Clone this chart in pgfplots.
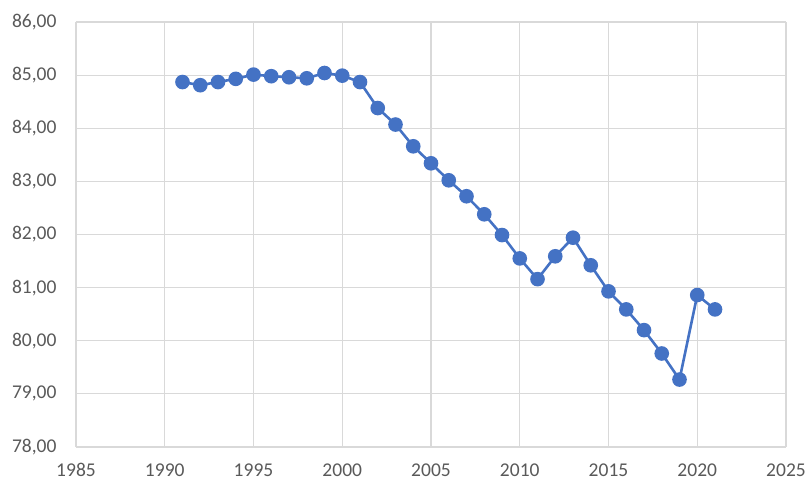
\documentclass[border=0pt]{standalone}
\usepackage{pgfplots}
\pgfplotsset{compat=1.18}
\usepackage{fontspec}
\setmainfont{Carlito}
\definecolor{serieC}{HTML}{4472C4}
\definecolor{gridC}{HTML}{D9D9D9}
\definecolor{lblC}{HTML}{595959}
\begin{document}
\begin{tikzpicture}
\begin{axis}[
  scale only axis, width=710pt, height=425pt,
  xmin=1985, xmax=2025, ymin=78, ymax=86,
  xtick={1985,1990,...,2025}, ytick={78,79,...,86},
  grid=major, major grid style={draw=gridC, line width=1.2pt},
  axis line style={draw=none},
  tick style={draw=none},
  tick label style={font=\fontsize{19.5}{23}\selectfont, text=lblC},
  /pgf/number format/assume math mode=true,
  xticklabel style={/pgf/number format/1000 sep={}, yshift=-13pt},
  yticklabel style={/pgf/number format/.cd, fixed, fixed zerofill, precision=2, use comma, 1000 sep={}, /tikz/.cd, xshift=-16pt},
  x tick label style={/pgf/number format/1000 sep={}},
]
\addplot[serieC, line width=2.6pt, mark=*, mark size=6pt, mark options={serieC, fill=serieC}] coordinates {
(1991,84.87) (1992,84.81) (1993,84.87) (1994,84.93) (1995,85.01)
(1996,84.98) (1997,84.96) (1998,84.94) (1999,85.04) (2000,84.99)
(2001,84.87) (2002,84.38) (2003,84.07) (2004,83.66) (2005,83.34)
(2006,83.02) (2007,82.72) (2008,82.38) (2009,81.99) (2010,81.55)
(2011,81.16) (2012,81.59) (2013,81.94) (2014,81.42) (2015,80.93)
(2016,80.59) (2017,80.20) (2018,79.76) (2019,79.27) (2020,80.86)
(2021,80.59)
};
\end{axis}
\pgfresetboundingbox
\path (current axis.south west) ++(-76pt,-35pt) coordinate (a);
\path (current axis.north east) ++(24pt,22pt) coordinate (b);
\path[use as bounding box] (a) rectangle (b);
\end{tikzpicture}
\end{document}
